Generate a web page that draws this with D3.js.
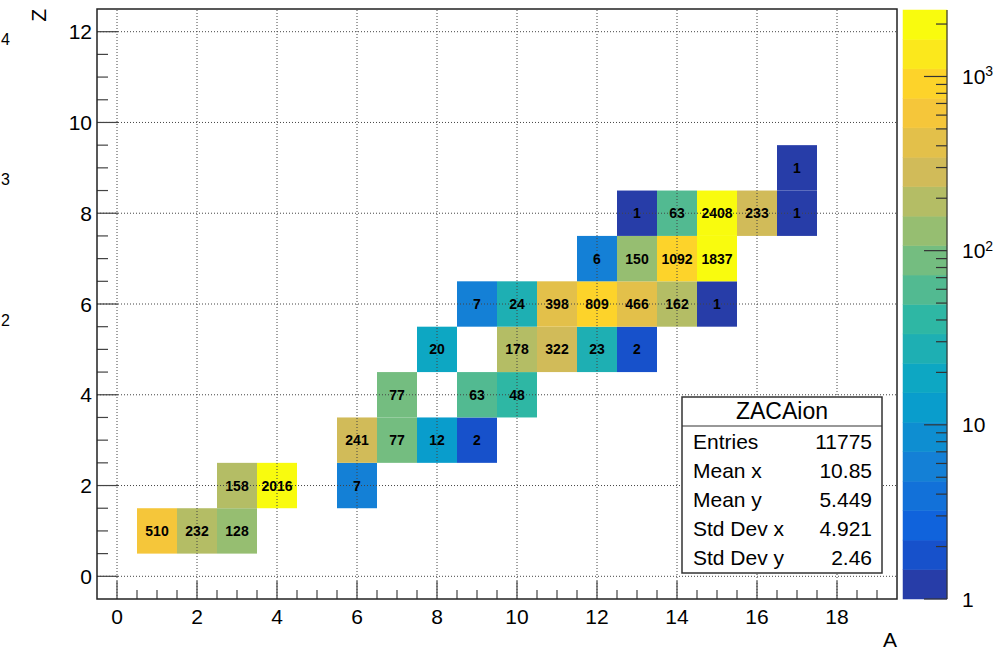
<!DOCTYPE html>
<html>
<head>
<meta charset="utf-8">
<script src="https://cdn.jsdelivr.net/npm/d3@7"></script>
<style>
	body{margin:0;background:#fff;}
	svg{display:block;font-family:"Liberation Sans",Arial,Helvetica,sans-serif;}
</style>
</head>
<body>
<script>
//histogram bins (A = mass number, Z = charge, count)
var binA=[1,2,3, 3,4,6, 6,7,8,9, 7,9,10, 8,10,11,12,13, 9,10,11,12,13,14,15, 12,13,14,15, 13,14,15,16,17, 17];
var binZ=[1,1,1, 2,2,2, 3,3,3,3, 4,4,4, 5,5,5,5,5, 6,6,6,6,6,6,6, 7,7,7,7, 8,8,8,8,8, 9];
var binCount=[510,232,128, 158,2016,7, 241,77,12,2, 77,63,48, 20,178,322,23,2, 7,24,398,809,466,162,1, 6,150,1092,1837, 1,63,2408,233,1, 1];

//stats box
var statTitle="ZACAion";
var statLabels=["Entries","Mean x","Mean y","Std Dev x","Std Dev y"];
var statValues=["11775","10.85","5.449","4.921","2.46"];

//colour bar labels (mantissa 10, exponent)
var zLabels=[{v:1,base:"1",exp:""},{v:10,base:"10",exp:""},{v:100,base:"10",exp:"2"},{v:1000,base:"10",exp:"3"}];

//cut-off exponents at the left edge of the canvas
var edgeLabels=[{t:"4",y:45},{t:"3",y:185},{t:"2",y:326}];

//ROOT kBird palette stops
var birdStops=[0.0000,0.1250,0.2500,0.3750,0.5000,0.6250,0.7500,0.8750,1.0000];
var birdRed=[0.2082,0.0592,0.0780,0.0232,0.1802,0.5301,0.8186,0.9956,0.9764];
var birdGreen=[0.1664,0.3599,0.5041,0.6419,0.7178,0.7492,0.7328,0.7862,0.9832];
var birdBlue=[0.5293,0.8684,0.8385,0.7914,0.6425,0.4662,0.3499,0.1968,0.0539];

window.onload=drawChart;

function drawChart(){

	var width=996,
		height=652;

	var svg=d3.select("body")
		.append("svg")
		.attr("width",width)
		.attr("height",height);

	//frame scales
	var x=d3.scaleLinear().domain([-0.5,19.5]).range([97,897]);
	var y=d3.scaleLinear().domain([-0.5,12.5]).range([599,9]);

	//z scale (log), 20 contours
	var zMin=1,zMax=d3.max(binCount),nCont=20;
	var z=d3.scaleLog().domain([zMin,zMax]).range([599,10]);
	var lmin=Math.log10(zMin),lmax=Math.log10(zMax),dz=(lmax-lmin)/nCont;

	//255 colour gradient like ROOT
	var gradR=d3.scaleLinear().domain(birdStops).range(birdRed);
	var gradG=d3.scaleLinear().domain(birdStops).range(birdGreen);
	var gradB=d3.scaleLinear().domain(birdStops).range(birdBlue);
	var nColors=255;
	var palette=d3.range(nColors).map(function(i){
		var f=i/(nColors-1);
		return d3.rgb(gradR(f)*255,gradG(f)*255,gradB(f)*255).toString();
	});
	function contColor(i){
		return palette[Math.min(nColors-1,Math.floor((i+0.99)*nColors/nCont))];
	}
	function binColor(v){
		var i=Math.floor((Math.log10(v)-lmin)/dz);
		i=Math.max(0,Math.min(nCont-1,i));
		return contColor(i);
	}

	var bins=binCount.map(function(c,i){return {a:binA[i],z:binZ[i],c:c};});

	//cells
	svg.selectAll(".cell")
		.data(bins)
		.enter()
		.append("rect")
		.attr("class","cell")
		.attr("x",function(d){return x(d.a-0.5);})
		.attr("y",function(d){return y(d.z+0.5);})
		.attr("width",x(1)-x(0))
		.attr("height",y(0)-y(1))
		.attr("fill",function(d){return binColor(d.c);});

	//grid
	var xMajor=d3.range(0,19,2),yMajor=d3.range(0,13,2);
	svg.selectAll(".gx")
		.data(xMajor)
		.enter()
		.append("line")
		.attr("x1",function(d){return x(d);})
		.attr("x2",function(d){return x(d);})
		.attr("y1",y(-0.5))
		.attr("y2",y(12.5))
		.attr("stroke","#444")
		.attr("stroke-dasharray","1,2");
	svg.selectAll(".gy")
		.data(yMajor)
		.enter()
		.append("line")
		.attr("y1",function(d){return y(d);})
		.attr("y2",function(d){return y(d);})
		.attr("x1",x(-0.5))
		.attr("x2",x(19.5))
		.attr("stroke","#444")
		.attr("stroke-dasharray","1,2");

	//cell text
	svg.selectAll(".ctext")
		.data(bins)
		.enter()
		.append("text")
		.attr("x",function(d){return x(d.a);})
		.attr("y",function(d){return y(d.z);})
		.attr("text-anchor","middle")
		.attr("dy","0.36em")
		.attr("font-size",14)
		.attr("font-weight","bold")
		.text(function(d){return d.c;});

	//ticks
	var xMinor=d3.range(0,19.5,0.5).filter(function(d){return d%2!==0;});
	var yMinor=d3.range(0,12.5,0.5).filter(function(d){return d%2!==0;});
	var tickColor="#444";
	svg.selectAll(".xt")
		.data(xMajor.map(function(d){return {v:d,l:18};}).concat(xMinor.map(function(d){return {v:d,l:9};})))
		.enter()
		.append("line")
		.attr("x1",function(d){return x(d.v);})
		.attr("x2",function(d){return x(d.v);})
		.attr("y1",599)
		.attr("y2",function(d){return 599-d.l;})
		.attr("stroke",tickColor)
		.attr("stroke-width",1.2);
	svg.selectAll(".yt")
		.data(yMajor.map(function(d){return {v:d,l:21};}).concat(yMinor.map(function(d){return {v:d,l:11};})))
		.enter()
		.append("line")
		.attr("y1",function(d){return y(d.v);})
		.attr("y2",function(d){return y(d.v);})
		.attr("x1",97)
		.attr("x2",function(d){return 97+d.l;})
		.attr("stroke",tickColor)
		.attr("stroke-width",1.2);

	//frame
	svg.append("rect")
		.attr("x",x(-0.5))
		.attr("y",y(12.5))
		.attr("width",x(19.5)-x(-0.5))
		.attr("height",y(-0.5)-y(12.5))
		.attr("fill","none")
		.attr("stroke","#222")
		.attr("stroke-width",1.5);

	//tick labels
	svg.selectAll(".xl")
		.data(xMajor)
		.enter()
		.append("text")
		.attr("x",function(d){return x(d);})
		.attr("y",624)
		.attr("text-anchor","middle")
		.attr("font-size",21)
		.text(function(d){return d;});
	svg.selectAll(".yl")
		.data(yMajor)
		.enter()
		.append("text")
		.attr("x",92)
		.attr("y",function(d){return y(d);})
		.attr("dy","0.36em")
		.attr("text-anchor","end")
		.attr("font-size",21)
		.text(function(d){return d;});

	//axis titles
	svg.append("text")
		.attr("x",897)
		.attr("y",647)
		.attr("text-anchor","end")
		.attr("font-size",21)
		.text("A");
	svg.append("text")
		.attr("transform","translate(46,9) rotate(-90)")
		.attr("text-anchor","end")
		.attr("font-size",21)
		.text("Z");

	//colour bar
	var cbx=903,cbw=44;
	svg.selectAll(".cb")
		.data(d3.range(nCont))
		.enter()
		.append("rect")
		.attr("x",cbx)
		.attr("width",cbw)
		.attr("y",function(i){return z(Math.pow(10,lmin+(i+1)*dz));})
		.attr("height",function(i){return z(Math.pow(10,lmin+i*dz))-z(Math.pow(10,lmin+(i+1)*dz));})
		.attr("fill",function(i){return contColor(i);})
		.attr("stroke",function(i){return contColor(i);})
		.attr("stroke-width",0.5);
	svg.append("line")
		.attr("x1",cbx+cbw)
		.attr("x2",cbx+cbw)
		.attr("y1",z(zMin))
		.attr("y2",z(zMax))
		.attr("stroke","#333")
		.attr("stroke-width",1.2);
	var zTicks=z.ticks().filter(function(d){return d>=zMin&&d<=zMax;});
	svg.selectAll(".zt")
		.data(zTicks)
		.enter()
		.append("line")
		.attr("x1",function(d){
			var major=Math.abs(Math.log10(d)-Math.round(Math.log10(d)))<1e-9;
			return cbx+cbw-(major?23:11);
		})
		.attr("x2",cbx+cbw)
		.attr("y1",function(d){return z(d);})
		.attr("y2",function(d){return z(d);})
		.attr("stroke","#333")
		.attr("stroke-width",1.2);
	var zl=svg.selectAll(".zl")
		.data(zLabels)
		.enter()
		.append("text")
		.attr("x",962)
		.attr("y",function(d){return z(d.v);})
		.attr("dy","0.36em")
		.attr("font-size",21);
	zl.append("tspan").text(function(d){return d.base;});
	zl.append("tspan")
		.attr("dy","-0.55em")
		.attr("font-size",14)
		.text(function(d){return d.exp;});

	//stats box
	var sx=682,sy=397,sw=200,sh=176;
	svg.append("rect")
		.attr("x",sx)
		.attr("y",sy)
		.attr("width",sw)
		.attr("height",sh)
		.attr("fill","#fff")
		.attr("stroke","#333")
		.attr("stroke-width",1.5);
	svg.append("line")
		.attr("x1",sx)
		.attr("x2",sx+sw)
		.attr("y1",426)
		.attr("y2",426)
		.attr("stroke","#333")
		.attr("stroke-width",1.2);
	svg.append("text")
		.attr("x",sx+sw/2)
		.attr("y",411)
		.attr("dy","0.36em")
		.attr("text-anchor","middle")
		.attr("font-size",23)
		.text(statTitle);
	var rowY=d3.scaleLinear().domain([0,statLabels.length-1]).range([441.5,557.5]);
	svg.selectAll(".sl")
		.data(statLabels)
		.enter()
		.append("text")
		.attr("x",693)
		.attr("y",function(d,i){return rowY(i);})
		.attr("dy","0.36em")
		.attr("font-size",21)
		.text(function(d){return d;});
	svg.selectAll(".sv")
		.data(statValues)
		.enter()
		.append("text")
		.attr("x",872)
		.attr("y",function(d,i){return rowY(i);})
		.attr("dy","0.36em")
		.attr("text-anchor","end")
		.attr("font-size",21)
		.text(function(d){return d;});

	//left edge remnants
	svg.selectAll(".edge")
		.data(edgeLabels)
		.enter()
		.append("text")
		.attr("x",1)
		.attr("y",function(d){return d.y;})
		.attr("font-size",16)
		.text(function(d){return d.t;});
};
</script>
</body>
</html>
